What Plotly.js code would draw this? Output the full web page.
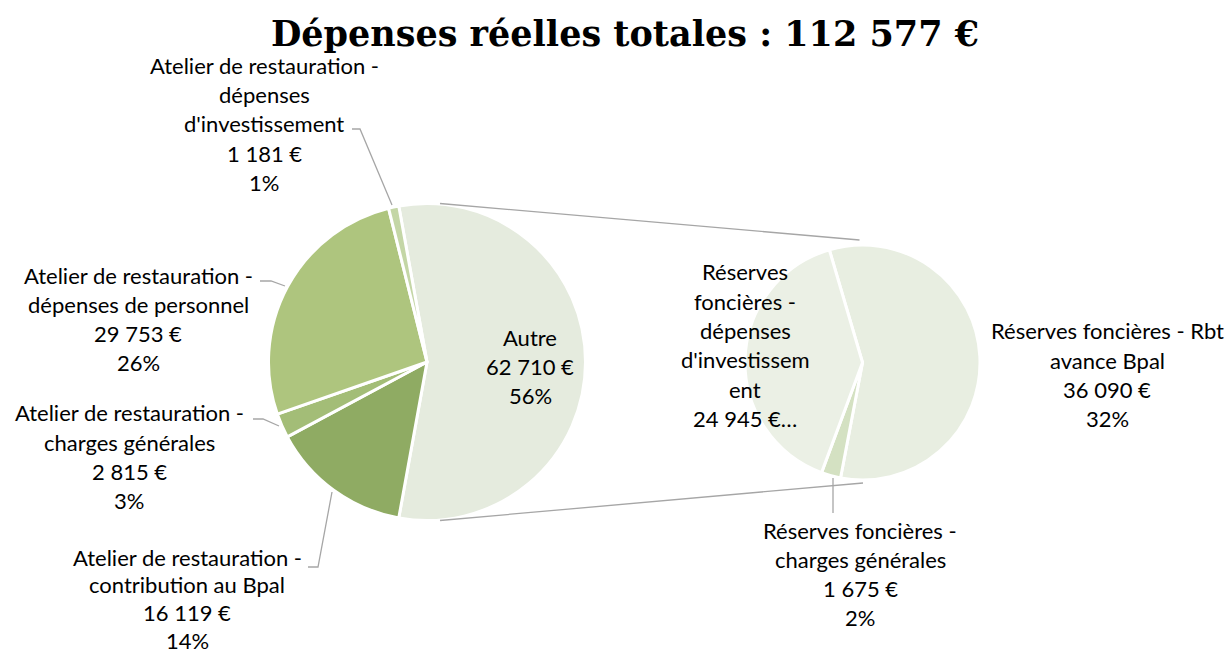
<!DOCTYPE html>
<html><head><meta charset="utf-8">
<script src="https://cdn.plot.ly/plotly-3.0.1.min.js"></script>
<style>html,body{margin:0;padding:0;background:#fff;overflow:hidden}</style>
</head><body><div id="chart" style="width:1227px;height:656px"></div>
<script>
// ---------- DATA ----------
const TITLE = 'Dépenses réelles totales : 112 577 €';
const mainLabels = ['Autre', 'Atelier de restauration - contribution au Bpal', 'Atelier de restauration - charges générales', 'Atelier de restauration - dépenses de personnel', "Atelier de restauration - dépenses d'investissement"];
const mainValues = [62710, 16119, 2815, 29753, 1181];
const mainPercents = ['56%', '14%', '3%', '26%', '1%'];
const mainLabelLines = [['Autre'], ['Atelier de restauration -', 'contribution au Bpal'], ['Atelier de restauration -', 'charges générales'], ['Atelier de restauration -', 'dépenses de personnel'], ['Atelier de restauration -', 'dépenses', "d'investissement"]];
const subLabels = ['Réserves foncières - Rbt avance Bpal', 'Réserves foncières - charges générales', "Réserves foncières - dépenses d'investissement"];
const subValues = [36090, 1675, 24945];
const subPercents = ['32%', '2%', null];   // null: label truncated in the original
const subLabelLines = [['Réserves foncières - Rbt', 'avance Bpal'], ['Réserves foncières -', 'charges générales'], ['Réserves', 'foncières -', 'dépenses', "d'investissem", 'ent']];

// ---------- STYLE / GEOMETRY ----------
const W = 1227, H = 656;
const mainPie = {cx: 427, cy: 362, r: 158.5};
const subPie = {cx: 862.5, cy: 362.5, r: 117.5};
const subRotation = -16.4;
const mainColors = ['#e5ebde', '#8fab63', '#a3bd77', '#aec57e', '#c4d6a6'];
const subColors = ['#e8eee1', '#d4e1c2', '#ebf0e5'];
const FONT = 'Lato, "Open Sans", sans-serif';
const FS = 22, LS = 29.3;
const mainLabelPos = [[530, 337], [187, 557], [129, 413], [138, 275], [264, 66]];
const mainLineSpacing = [LS, 27.8, LS, LS, 29];
const subLabelPos = [[1107, 331], [860, 530], [745, 272]];
const mainLeaders = [null, [[308, 567], [318, 567], [332, 492]], [[253, 419], [263, 419], [279, 426]], [[260, 281], [271, 281], [285, 286]], [[352, 129], [360, 129], [392, 205]]];
const subLeaders = [null, [[833, 478], [833, 513]], null];

const px = x => x / W, py = y => 1 - y / H;
function dom(p) { return {x: [px(p.cx - p.r), px(p.cx + p.r)], y: [py(p.cy + p.r), py(p.cy - p.r)]}; }
function fmt(n) { return String(n).replace(/\B(?=(\d{3})+(?!\d))/g, ' ') + ' €'; }

const mainTotal = mainValues.reduce((a, b) => a + b, 0);
const mainRotation = 90 - 180 * mainValues[0] / mainTotal;

const traces = [
  {type: 'pie', labels: mainLabels, values: mainValues, sort: false, direction: 'clockwise',
   rotation: mainRotation, domain: dom(mainPie), textinfo: 'none', hoverinfo: 'none',
   marker: {colors: mainColors, line: {color: '#ffffff', width: 3}}, showlegend: false},
  {type: 'pie', labels: subLabels, values: subValues, sort: false, direction: 'clockwise',
   rotation: subRotation, domain: dom(subPie), textinfo: 'none', hoverinfo: 'none',
   marker: {colors: subColors, line: {color: '#ffffff', width: 3}}, showlegend: false}
];

const annotations = [];
const shapes = [];
function addLabel(lines, pos, ls) {
  lines.forEach((t, i) => annotations.push({text: t, x: px(pos[0]), y: py(pos[1] + i * ls), xref: 'paper', yref: 'paper',
    xanchor: 'center', yanchor: 'middle', showarrow: false, font: {family: FONT, size: FS, color: '#000000'}}));
}
function addLeader(pts) {
  if (!pts) return;
  const path = pts.map((p, i) => (i ? 'L' : 'M') + px(p[0]) + ',' + py(p[1])).join(' ');
  shapes.push({type: 'path', xref: 'paper', yref: 'paper', path: path, line: {color: '#a6a6a6', width: 1.3}});
}
mainLabels.forEach((l, i) => {
  addLabel(mainLabelLines[i].concat([fmt(mainValues[i]), mainPercents[i]]), mainLabelPos[i], mainLineSpacing[i]);
  addLeader(mainLeaders[i]);
});
subLabels.forEach((l, i) => {
  const extra = subPercents[i] === null ? [fmt(subValues[i]) + '…'] : [fmt(subValues[i]), subPercents[i]];
  addLabel(subLabelLines[i].concat(extra), subLabelPos[i], LS);
  addLeader(subLeaders[i]);
});
// connector lines between the two pies
addLeader([[mainPie.cx + 13, mainPie.cy - mainPie.r], [subPie.cx - 3, subPie.cy - subPie.r - 5]]);
addLeader([[mainPie.cx + 13, mainPie.cy + mainPie.r], [subPie.cx + 0.5, subPie.cy + subPie.r + 3]]);

const layout = {
  width: W, height: H, margin: {l: 0, r: 0, t: 0, b: 0},
  paper_bgcolor: '#ffffff', plot_bgcolor: '#ffffff',
  title: {text: '<b>' + TITLE + '</b>', x: 625 / W, xanchor: 'center', y: 1 - 34 / H, yanchor: 'middle',
          font: {family: '"DejaVu Serif", "Liberation Serif", serif', size: 35, color: '#000000'}},
  annotations: annotations, shapes: shapes, showlegend: false
};
Plotly.newPlot('chart', traces, layout, {displayModeBar: false, staticPlot: true});
</script></body></html>
